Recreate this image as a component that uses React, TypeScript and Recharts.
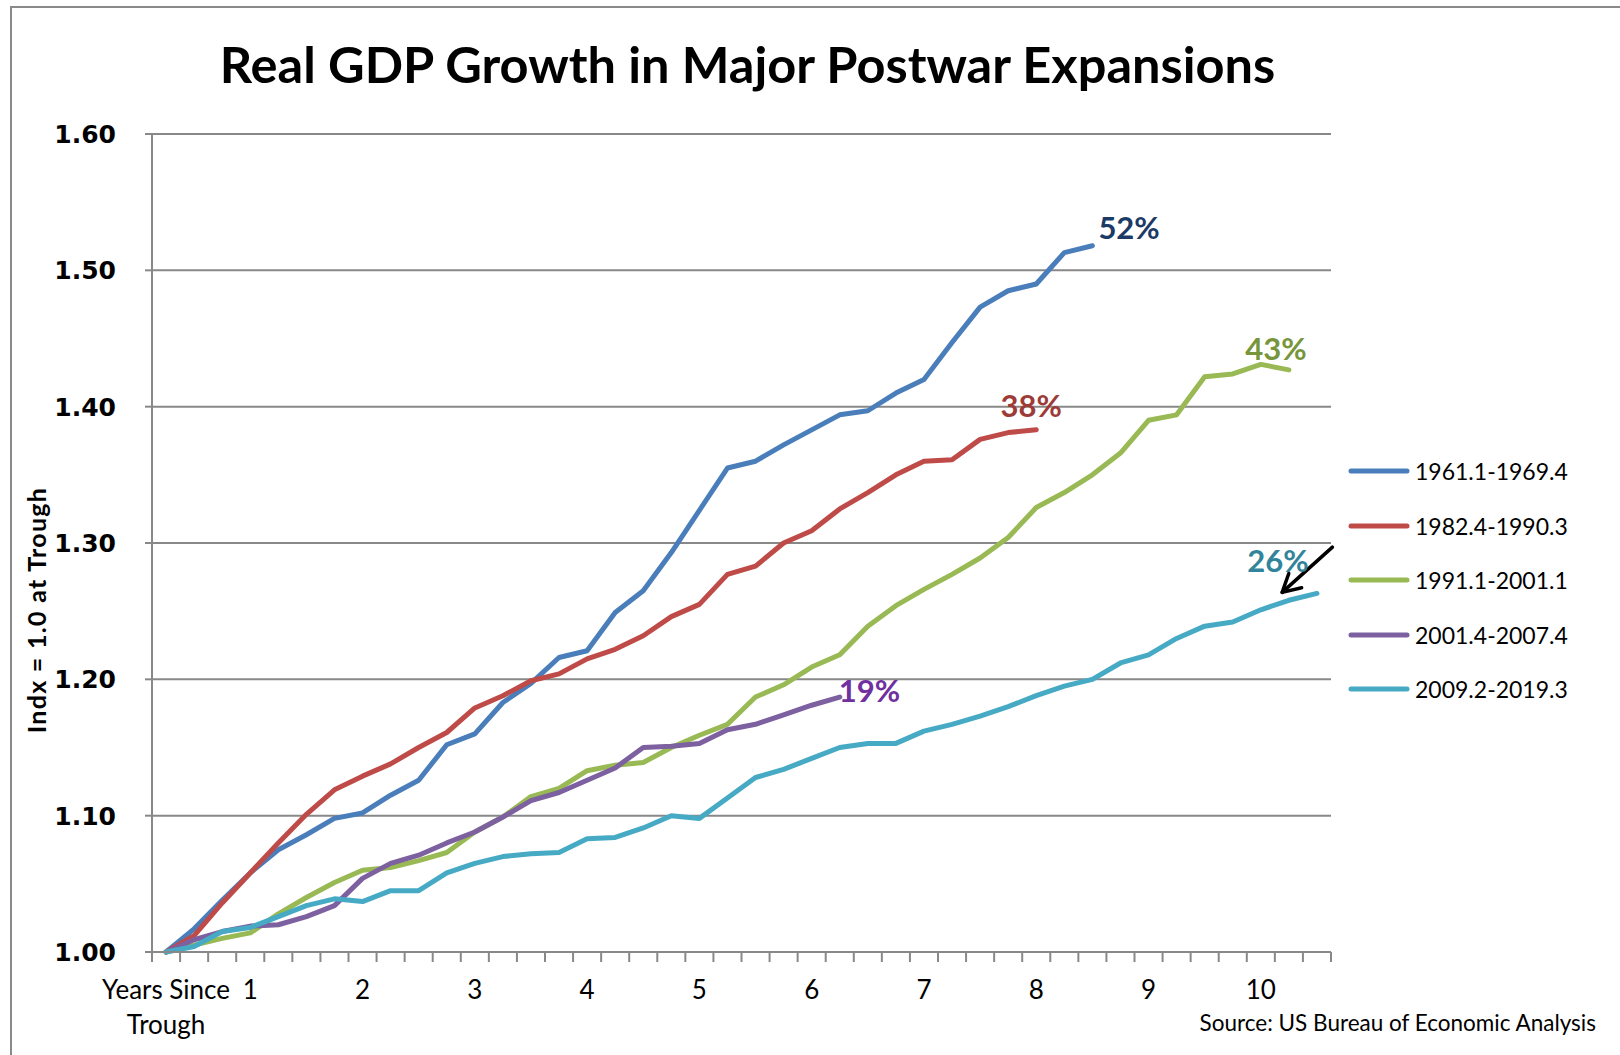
import { LineChart, Line, XAxis, YAxis, CartesianGrid, LabelList, ReferenceLine } from 'recharts';

// quarters since trough, index 0 = trough
const QUARTERS = Array.from({ length: 42 }, (_, i) => i);

const GDP_1961 = [
  1.0, 1.017, 1.038, 1.058, 1.075, 1.086, 1.098, 1.102, 1.115, 1.126, 1.152, 1.16, 1.183, 1.197,
  1.216, 1.221, 1.249, 1.265, 1.293, 1.324, 1.355, 1.36, 1.372, 1.383, 1.394, 1.397, 1.41, 1.42,
  1.447, 1.473, 1.485, 1.49, 1.513, 1.518,
];
const GDP_1982 = [
  1.0, 1.012, 1.036, 1.058, 1.08, 1.101, 1.119, 1.129, 1.138, 1.15, 1.161, 1.179, 1.188, 1.199,
  1.204, 1.215, 1.222, 1.232, 1.246, 1.255, 1.277, 1.283, 1.3, 1.309, 1.325, 1.337, 1.35, 1.36,
  1.361, 1.376, 1.381, 1.383,
];
const GDP_1991 = [
  1.0, 1.005, 1.01, 1.014, 1.028, 1.04, 1.051, 1.06, 1.062, 1.067, 1.073, 1.088, 1.099, 1.114,
  1.12, 1.133, 1.137, 1.139, 1.15, 1.159, 1.167, 1.187, 1.196, 1.209, 1.218, 1.239, 1.254, 1.266,
  1.277, 1.289, 1.304, 1.326, 1.337, 1.35, 1.366, 1.39, 1.394, 1.422, 1.424, 1.431, 1.427,
];
const GDP_2001 = [
  1.0, 1.009, 1.015, 1.019, 1.02, 1.026, 1.034, 1.054, 1.065, 1.071, 1.08, 1.088, 1.099, 1.111,
  1.117, 1.126, 1.135, 1.15, 1.151, 1.153, 1.163, 1.167, 1.174, 1.181, 1.187,
];
const GDP_2009 = [
  1.0, 1.004, 1.015, 1.018, 1.026, 1.034, 1.039, 1.037, 1.045, 1.045, 1.058, 1.065, 1.07, 1.072,
  1.073, 1.083, 1.084, 1.091, 1.1, 1.098, 1.113, 1.128, 1.134, 1.142, 1.15, 1.153, 1.153, 1.162,
  1.167, 1.173, 1.18, 1.188, 1.195, 1.2, 1.212, 1.218, 1.23, 1.239, 1.242, 1.251, 1.258, 1.263,
];

const Y_TICKS = [1.0, 1.1, 1.2, 1.3, 1.4, 1.5, 1.6];
const X_LABEL_POS = [0, 3, 7, 11, 15, 19, 23, 27, 31, 35, 39];
const X_LABELS = ['Years Since\nTrough', '1', '2', '3', '4', '5', '6', '7', '8', '9', '10'];
// tick marks sit between quarters, like Excel's category axis
const X_BOUNDS = Array.from({ length: 43 }, (_, i) => i - 0.5);

const SERIES = [
  { key: 'p1961', name: '1961.1-1969.4', values: GDP_1961, color: '#4a7ebb', tag: '52%', tagColor: '#1b3a66', dx: 6, dy: -19, anchor: 'start' },
  { key: 'p1982', name: '1982.4-1990.3', values: GDP_1982, color: '#be4b48', tag: '38%', tagColor: '#9c3b37', dx: -5, dy: -25, anchor: 'middle' },
  { key: 'p1991', name: '1991.1-2001.1', values: GDP_1991, color: '#98b954', tag: '43%', tagColor: '#77963c', dx: -13, dy: -22, anchor: 'middle' },
  { key: 'p2001', name: '2001.4-2007.4', values: GDP_2001, color: '#7d60a0', tag: '19%', tagColor: '#7030a0', dx: -1, dy: -7, anchor: 'start' },
  { key: 'p2009', name: '2009.2-2019.3', values: GDP_2009, color: '#46aac5', tag: '26%', tagColor: '#31849b', dx: -39, dy: -33, anchor: 'middle' },
];

const GRID = '#888888';
const FONT = 'Lato, "Open Sans", sans-serif';

const rows = QUARTERS.map((q) => {
  const row: Record<string, number | null> = { q };
  SERIES.forEach((s) => {
    row[s.key] = q < s.values.length ? s.values[q] : null;
  });
  return row;
});

const XTick = ({ x, y, payload }: any) => {
  const v = payload.value as number;
  if (!Number.isInteger(v)) {
    return <line x1={x} x2={x} y1={y} y2={y + 10} stroke={GRID} strokeWidth={2} />;
  }
  const idx = X_LABEL_POS.indexOf(v);
  if (idx < 0) return null;
  const lines = X_LABELS[idx].split('\n');
  return (
    <text x={x} y={y + 47} textAnchor="middle" fontFamily={FONT} fontSize={26} fill="#000">
      {lines.map((l, k) => (
        <tspan key={k} x={x} dy={k ? 35 : 0}>
          {l}
        </tspan>
      ))}
    </text>
  );
};

const endTag = (s: (typeof SERIES)[number]) => (props: any) => {
  const { x, y, index } = props;
  if (index !== s.values.length - 1) return null;
  return (
    <text
      x={x + s.dx}
      y={y + s.dy}
      textAnchor={s.anchor}
      dominantBaseline="central"
      fontFamily={FONT}
      fontWeight={700}
      fontSize={31}
      fill={s.tagColor}
    >
      {s.tag}
    </text>
  );
};

const Arrow = (props: any) => {
  const { x1, y1, x2, y2 } = props;
  const ang = Math.atan2(y2 - y1, x2 - x1);
  const len = 20;
  const a1 = ang + Math.PI - 0.5;
  const a2 = ang + Math.PI + 0.5;
  return (
    <g stroke="#000" strokeWidth={3.5} fill="none" strokeLinecap="round" strokeLinejoin="round">
      <line x1={x1} y1={y1} x2={x2} y2={y2} />
      <polyline
        points={`${x2 + len * Math.cos(a1)},${y2 + len * Math.sin(a1)} ${x2},${y2} ${x2 + len * Math.cos(a2)},${y2 + len * Math.sin(a2)}`}
      />
    </g>
  );
};

export default function App() {
  return (
    <div style={{ position: 'absolute', left: 0, top: 0, width: 1620, height: 1055, overflow: 'hidden', background: '#fff' }}>
      <div
        style={{
          position: 'absolute',
          left: 10,
          top: 6,
          width: 1700,
          height: 1100,
          borderTop: '2.5px solid #8a8a8a',
          borderLeft: '2.5px solid #8a8a8a',
        }}
      />
      <div
        style={{
          position: 'absolute',
          left: 0,
          width: 1495,
          top: 34,
          textAlign: 'center',
          fontFamily: FONT,
          fontWeight: 700,
          fontSize: 50.5,
          lineHeight: '60px',
          color: '#000',
        }}
      >
        Real GDP Growth in Major Postwar Expansions
      </div>

      <div style={{ position: 'absolute', left: 0, top: 0 }}>
        <LineChart width={1620} height={1055} data={rows} margin={{ top: 134, right: 289, bottom: 43, left: 42 }}>
          <CartesianGrid vertical={false} stroke={GRID} strokeWidth={2} />
          <XAxis
            dataKey="q"
            type="number"
            domain={[-0.5, 41.5]}
            ticks={[...X_BOUNDS, ...X_LABEL_POS].sort((a, b) => a - b)}
            interval={0}
            height={60}
            tickSize={0}
            tickMargin={0}
            tickLine={false}
            axisLine={{ stroke: GRID, strokeWidth: 2 }}
            tick={<XTick />}
          />
          <YAxis
            type="number"
            domain={[1.0, 1.6]}
            ticks={Y_TICKS}
            width={110}
            tickSize={7}
            tickMargin={29}
            tickLine={{ stroke: GRID, strokeWidth: 2 }}
            axisLine={{ stroke: GRID, strokeWidth: 2 }}
            tickFormatter={(v: number) => v.toFixed(2)}
            tick={{ fontFamily: '"DejaVu Sans", sans-serif', fontWeight: 700, fontSize: 25, fill: '#000' }}
            label={() => (
              <text
                x={36}
                y={610}
                transform="rotate(-90 36 610)"
                textAnchor="middle"
                dominantBaseline="central"
                fontFamily={FONT}
                fontWeight={700}
                fontSize={25}
                letterSpacing={1.3}
                fill="#000"
              >
                Indx = 1.0 at Trough
              </text>
            )}
          />
          {SERIES.map((s) => (
            <Line
              key={s.key}
              dataKey={s.key}
              name={s.name}
              type="linear"
              stroke={s.color}
              strokeWidth={5}
              strokeLinecap="round"
              strokeLinejoin="round"
              dot={false}
              activeDot={false}
              isAnimationActive={false}
            >
              <LabelList dataKey={s.key} content={endTag(s)} />
            </Line>
          ))}
          <ReferenceLine
            segment={[
              { x: 41.55, y: 1.297 },
              { x: 39.76, y: 1.2638 },
            ]}
            ifOverflow="visible"
            shape={<Arrow />}
          />
        </LineChart>
      </div>

      {/* legend */}
      <div style={{ position: 'absolute', left: 1346, top: 444, fontFamily: FONT, fontSize: 23, color: '#000' }}>
        {SERIES.map((s) => (
          <div key={s.key} style={{ display: 'flex', alignItems: 'center', height: 54.5 }}>
            <svg width={66} height={10}>
              <line x1={5} x2={61} y1={5} y2={5} stroke={s.color} strokeWidth={5} strokeLinecap="round" />
            </svg>
            <span style={{ marginLeft: 3 }}>{s.name}</span>
          </div>
        ))}
      </div>

      <div
        style={{
          position: 'absolute',
          right: 24,
          top: 1009,
          fontFamily: FONT,
          fontSize: 22.5,
          color: '#000',
        }}
      >
        Source: US Bureau of Economic Analysis
      </div>
    </div>
  );
}
